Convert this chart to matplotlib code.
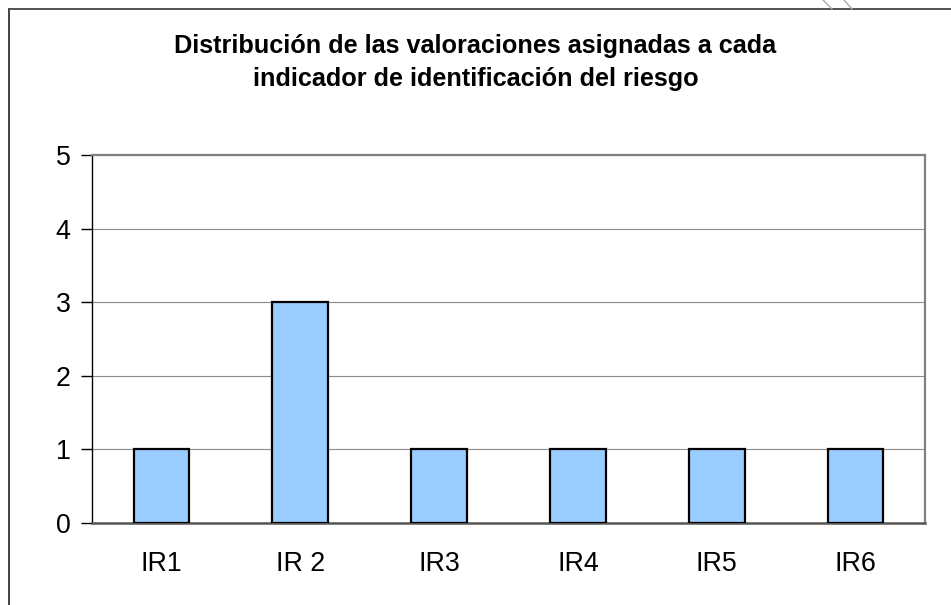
import matplotlib
matplotlib.use("Agg")
import matplotlib.pyplot as plt
from matplotlib.lines import Line2D

# datos del gráfico
indicadores = ["IR1", "IR 2", "IR3", "IR4", "IR5", "IR6"]
valoraciones = [1, 3, 1, 1, 1, 1]
titulo = ("Distribución de las valoraciones asignadas a cada\n"
          "indicador de identificación del riesgo")

plt.rcParams['font.family'] = ['Liberation Sans', 'DejaVu Sans']

fig = plt.figure(figsize=(9.51, 6.05), dpi=100)
ax = fig.add_axes([92 / 951, 82 / 605, 833 / 951, 368 / 605])

x = range(len(indicadores))
ax.bar(x, valoraciones, width=0.40, color="#99CCFF", edgecolor="black",
       linewidth=1.6, zorder=3)

ax.set_xlim(-0.5, len(indicadores) - 0.5)
ax.set_ylim(0, 5)
ax.set_yticks(range(0, 6))
ax.set_xticks(list(x))
ax.set_xticklabels(indicadores)
ax.yaxis.grid(True, color="#8c8c8c", linewidth=0.8, zorder=0)

ax.tick_params(axis="y", length=8, width=1, pad=7.5, labelsize=19.3,
               color="black")
ax.tick_params(axis="x", length=0, pad=20, labelsize=19.3)

for side in ("top", "right"):
    ax.spines[side].set_color("#808080")
    ax.spines[side].set_linewidth(1.6)
ax.spines["left"].set_color("black")
ax.spines["left"].set_linewidth(1.0)
ax.spines["bottom"].set_color("#555555")
ax.spines["bottom"].set_linewidth(1.8)

fig.text(0.5, 1 - 62.5 / 605, titulo, ha="center", va="center",
         fontsize=18.2, fontweight="bold", linespacing=1.46)

# borde exterior del recuadro
W, H = 951, 605
fig.add_artist(Line2D([9 / W, 9 / W], [0, 1 - 9 / H], color="#333333",
                      linewidth=1.3, transform=fig.transFigure))
fig.add_artist(Line2D([9 / W, 1], [1 - 9 / H, 1 - 9 / H], color="#444444",
                      linewidth=1.3, transform=fig.transFigure))
# trazos diagonales en la esquina superior
for x0, x1 in ((823, 832), (844, 852)):
    fig.add_artist(Line2D([x0 / W, x1 / W], [1, 1 - 9 / H], color="#aaaaaa",
                          linewidth=1.0, transform=fig.transFigure))

fig.savefig("out.png", dpi=100)
